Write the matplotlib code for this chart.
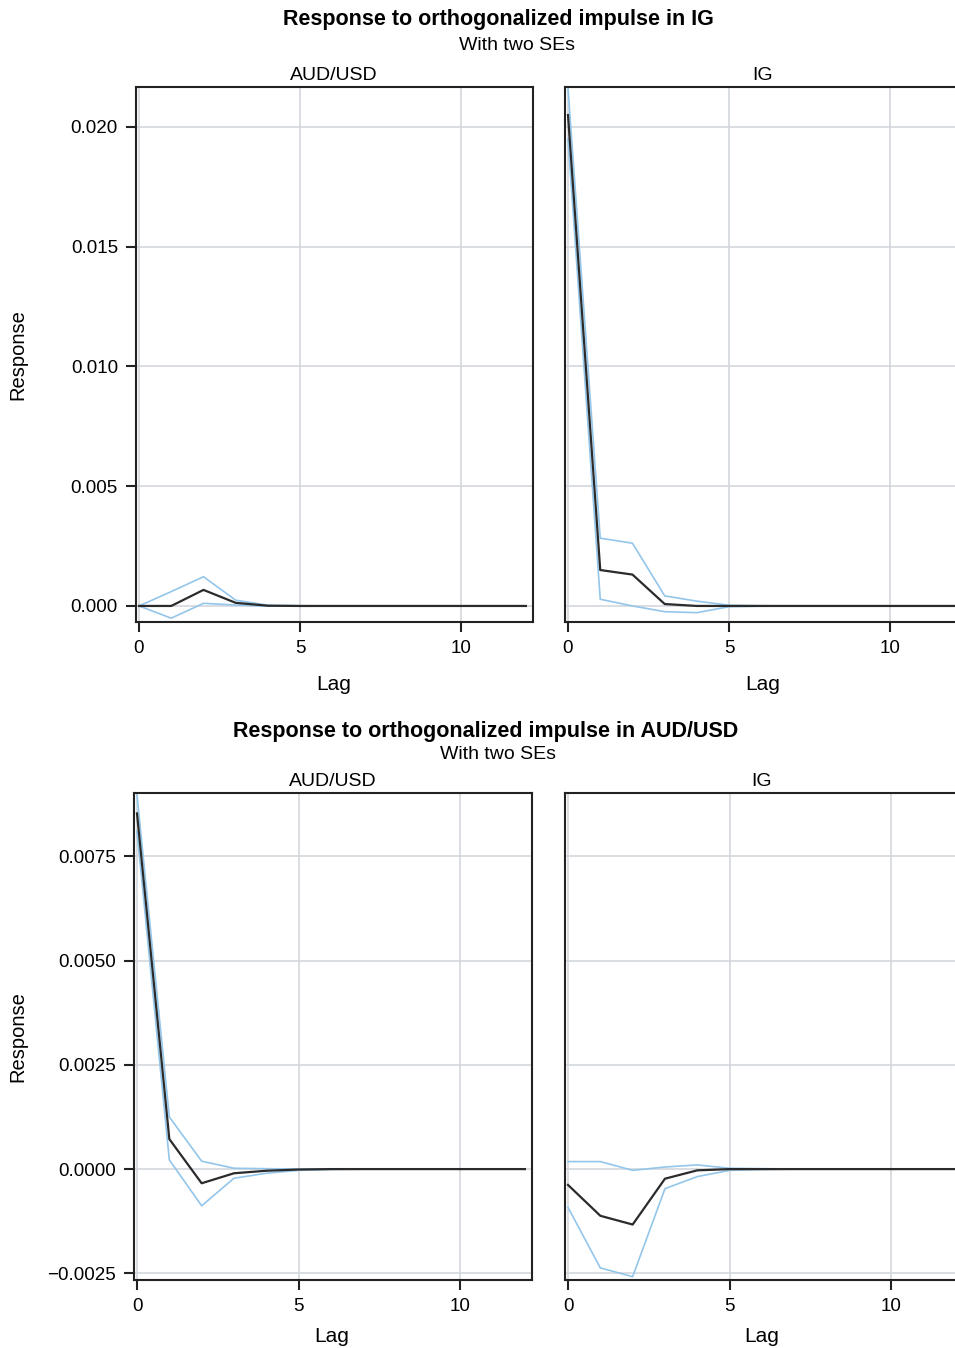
import numpy as np
import matplotlib
matplotlib.use("Agg")
import matplotlib.pyplot as plt

plt.rcParams["font.family"] = ["Liberation Sans", "DejaVu Sans"]

lags = np.arange(13)

# impulse in IG
ig_aud = [0.0, 0.0, 0.00067, 0.00013, 0.00001, 0.0, 0, 0, 0, 0, 0, 0, 0]
ig_aud_hi = [0.0, 0.0006, 0.00122, 0.00024, 0.00003, 0.00001, 0, 0, 0, 0, 0, 0, 0]
ig_aud_lo = [0.0, -0.00051, 0.00011, 0.00004, -0.00001, 0.0, 0, 0, 0, 0, 0, 0, 0]

ig_ig = [0.0205, 0.0015, 0.00131, 0.00008, 0.0, 0.0, 0, 0, 0, 0, 0, 0, 0]
ig_ig_hi = [0.02163, 0.00283, 0.00262, 0.00042, 0.0002, 0.00003, 0.00001, 0, 0, 0, 0, 0, 0]
ig_ig_lo = [0.0195, 0.00028, 0.0, -0.00024, -0.00028, -0.00003, -0.00001, 0, 0, 0, 0, 0, 0]

# impulse in AUD/USD
aud_aud = [0.00853, 0.00072, -0.00034, -0.0001, -0.00004, -0.00001, 0, 0, 0, 0, 0, 0, 0]
aud_aud_hi = [0.00897, 0.00125, 0.00019, 0.00002, 0.00001, 0.0, 0, 0, 0, 0, 0, 0, 0]
aud_aud_lo = [0.0081, 0.00022, -0.00088, -0.00022, -0.0001, -0.00003, -0.00001, 0, 0, 0, 0, 0, 0]

aud_ig = [-0.00038, -0.00112, -0.00133, -0.00023, -0.00003, 0.0, 0, 0, 0, 0, 0, 0, 0]
aud_ig_hi = [0.00018, 0.00018, -0.00003, 0.00005, 0.0001, 0.00002, 0.00001, 0, 0, 0, 0, 0, 0]
aud_ig_lo = [-0.00092, -0.00237, -0.00258, -0.00047, -0.00018, -0.00003, -0.00001, 0, 0, 0, 0, 0, 0]

top_yticks = [0.0, 0.005, 0.010, 0.015, 0.020]
top_ylabels = ["0.000", "0.005", "0.010", "0.015", "0.020"]
bot_yticks = [-0.0025, 0.0, 0.0025, 0.005, 0.0075]
bot_ylabels = ["\u22120.0025", "0.0000", "0.0025", "0.0050", "0.0075"]

W, H = 955, 1348
fig = plt.figure(figsize=(W / 100, H / 100), dpi=100)

def px(x0, y0, x1, y1):
	return [x0 / W, 1 - y1 / H, (x1 - x0) / W, (y1 - y0) / H]

def panel(rect, y, hi, lo, ylim, yticks, ylabels, show_y):
	ax = fig.add_axes(rect)
	ax.plot(lags, hi, color="#93c6ea", lw=1.2)
	ax.plot(lags, lo, color="#93c6ea", lw=1.2)
	ax.plot(lags, y, color="#2b2b2b", lw=1.6)
	ax.set_xlim(-0.093, 12.22)
	ax.set_ylim(*ylim)
	ax.set_xticks([0, 5, 10])
	ax.set_yticks(yticks)
	ax.grid(True, color="#d3d7db", lw=1.2)
	ax.set_axisbelow(True)
	for s in ax.spines.values():
		s.set_linewidth(1.5)
		s.set_color("#222222")
	ax.tick_params(length=7, width=1.5, labelsize=13.5, pad=6, color="#222222")
	if show_y:
		ax.set_yticklabels(ylabels)
	else:
		ax.tick_params(axis="y", left=False, labelleft=False)
	return ax

panel(px(136, 87, 533, 622), ig_aud, ig_aud_hi, ig_aud_lo, (-0.00067, 0.02167), top_yticks, top_ylabels, True)
panel(px(565, 87, 962, 622), ig_ig, ig_ig_hi, ig_ig_lo, (-0.00067, 0.02167), top_yticks, top_ylabels, False)
panel(px(134, 793, 532, 1280), aud_aud, aud_aud_hi, aud_aud_lo, (-0.00266, 0.00902), bot_yticks, bot_ylabels, True)
panel(px(565, 793, 963, 1280), aud_ig, aud_ig_hi, aud_ig_lo, (-0.00266, 0.00902), bot_yticks, bot_ylabels, False)

def t(x, y, s, **kw):
	fig.text(x / W, 1 - y / H, s, ha="center", va="center", **kw)

t(498, 20, "Response to orthogonalized impulse in IG", fontsize=15.5, fontweight="bold")
t(517, 45, "With two SEs", fontsize=14)
t(334, 75, "AUD/USD", fontsize=14)
t(763, 75, "IG", fontsize=14)
t(334, 685, "Lag", fontsize=15)
t(763, 685, "Lag", fontsize=15)
t(18, 355, "Response", fontsize=14.5, rotation=90)

t(486, 731, "Response to orthogonalized impulse in AUD/USD", fontsize=15.5, fontweight="bold")
t(498, 754, "With two SEs", fontsize=14)
t(333, 782, "AUD/USD", fontsize=14)
t(762, 782, "IG", fontsize=14)
t(332, 1337, "Lag", fontsize=15)
t(762, 1337, "Lag", fontsize=15)
t(18, 1037, "Response", fontsize=14.5, rotation=90)

fig.savefig("out.png", dpi=100)
